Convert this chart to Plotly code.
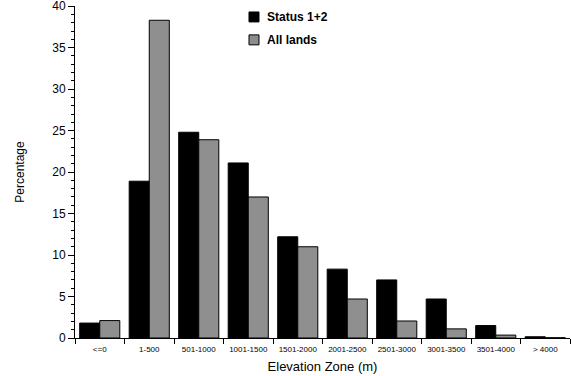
import plotly.graph_objects as go

categories = ["<=0", "1-500", "501-1000", "1001-1500", "1501-2000", "2001-2500",
              "2501-3000", "3001-3500", "3501-4000", "> 4000"]
status12 = [1.8, 18.9, 24.8, 21.1, 12.2, 8.3, 7.0, 4.7, 1.5, 0.15]
all_lands = [2.1, 38.3, 23.9, 17.0, 11.0, 4.7, 2.05, 1.1, 0.35, 0.03]
y_ticks = [0, 5, 10, 15, 20, 25, 30, 35, 40]
series_names = ["Status 1+2", "All lands"]
legend_fills = ["black", "#8c8c8c"]

fig = go.Figure()
fig.add_trace(go.Bar(
    x=categories, y=status12, name=series_names[0],
    marker=dict(color="black", line=dict(color="black", width=1)),
))
fig.add_trace(go.Bar(
    x=categories, y=all_lands, name=series_names[1],
    marker=dict(color="white", line=dict(color="black", width=1),
                pattern=dict(shape=".", size=2, solidity=0.5,
                             fgcolor="black", bgcolor="white", fillmode="replace")),
))

# custom legend (paper coordinates)
leg_x0, leg_w, leg_h = 0.3515, 0.0202, 0.030
leg_y = [0.967, 0.898]
for name, fill, yc in zip(series_names, legend_fills, leg_y):
    fig.add_shape(type="rect", xref="paper", yref="paper",
                  x0=leg_x0, x1=leg_x0 + leg_w, y0=yc - leg_h / 2, y1=yc + leg_h / 2,
                  fillcolor=fill, line=dict(color="black", width=1))
    fig.add_annotation(xref="paper", yref="paper", x=0.3838, y=yc,
                       xanchor="left", yanchor="middle", showarrow=False,
                       text="<b>%s</b>" % name, font=dict(size=12))

fig.update_layout(
    width=571, height=376,
    margin=dict(l=75, r=1, t=6, b=38, autoexpand=False),
    paper_bgcolor="white", plot_bgcolor="white",
    barmode="group", bargap=0.19, bargroupgap=0,
    font=dict(family="Liberation Sans, Arial, sans-serif", color="black"),
    showlegend=False,
)
fig.update_xaxes(
    showline=True, linecolor="black", linewidth=1,
    ticks="outside", ticklen=5, tickcolor="black", tickson="boundaries",
    tickfont=dict(size=8), tickangle=0, automargin=False, ticklabelstandoff=3,
    title=dict(text="Elevation Zone (m)", font=dict(size=13), standoff=9),
    showgrid=False, zeroline=False,
)
fig.update_yaxes(
    range=[0, 40.02], tickvals=y_ticks,
    showline=True, linecolor="black", linewidth=1,
    ticks="outside", ticklen=6, tickcolor="black",
    tickfont=dict(size=12), automargin=False, ticklabeloverflow="allow",
    minor=dict(dtick=1, ticks="outside", ticklen=3, tickcolor="black"),
    title=dict(text="Percentage", font=dict(size=12), standoff=25),
    showgrid=False, zeroline=False,
)

fig.write_html("out.html", config={"displayModeBar": False},
               post_script="document.body.style.margin='0';window.dispatchEvent(new Event('resize'));")
